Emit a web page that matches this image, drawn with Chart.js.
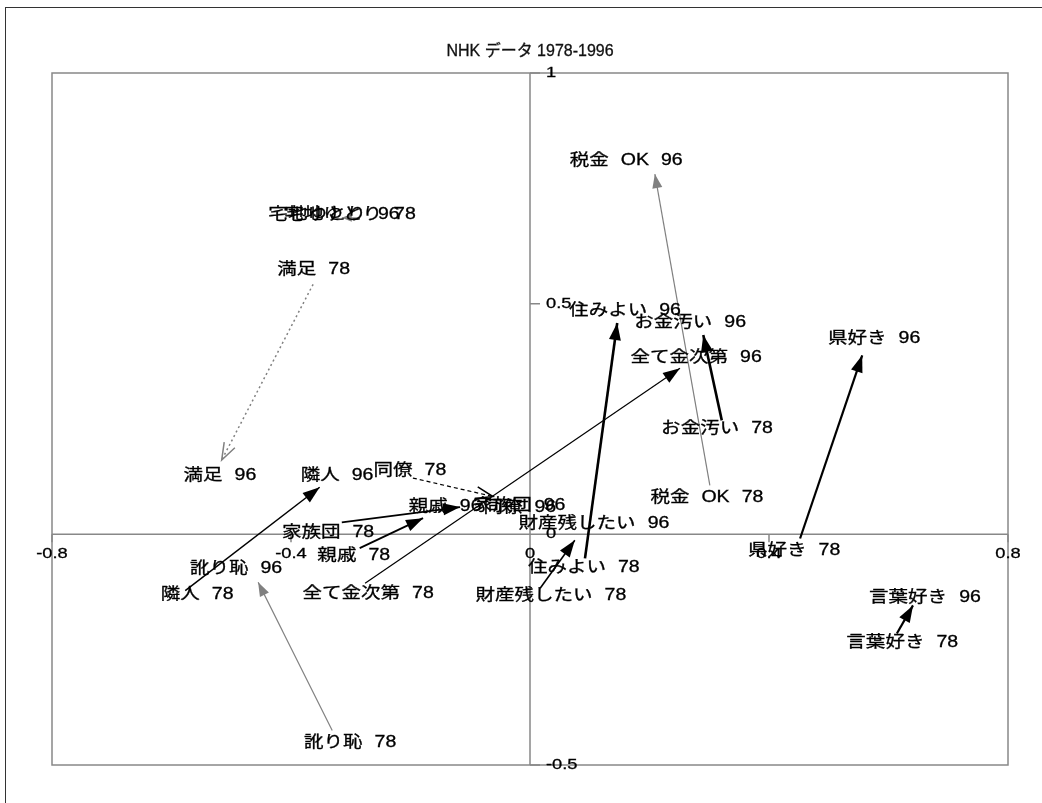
<!DOCTYPE html>
<html lang="ja">
<head>
<meta charset="utf-8">
<title>NHK データ 1978-1996</title>
<script src="https://cdn.jsdelivr.net/npm/chart.js@4.4.1/dist/chart.umd.min.js"></script>
<style>
  html, body { margin: 0; padding: 0; background: #fff; overflow: hidden; }
  #wrap { width: 1042px; height: 803px; }
</style>
</head>
<body>
<div id="wrap"><canvas id="nhkChart" width="1042" height="803"></canvas></div>
<script>
// --- data -------------------------------------------------------------
const items = ["満足", "宅地ゆとり", "隣人", "同僚", "親戚", "家族団", "訛り恥",
  "全て金次第", "財産残したい", "住みよい", "お金汚い", "税金 OK", "県好き", "言葉好き"];

// label positions, 1978
const x78 = [-0.362, -0.301, -0.557, -0.201, -0.295, -0.338, -0.301, -0.271, 0.035, 0.090, 0.313, 0.296, 0.442, 0.623];
const y78 = [0.573, 0.692, -0.130, 0.139, -0.046, 0.004, -0.451, -0.128, -0.132, -0.072, 0.230, 0.080, -0.035, -0.234];
// label positions, 1996
const x96 = [-0.519, -0.328, -0.323, -0.017, -0.142, -0.018, -0.492, 0.278, 0.107, 0.159, 0.268, 0.161, 0.576, 0.661];
const y96 = [0.128, 0.692, 0.128, 0.059, 0.061, 0.063, -0.074, 0.384, 0.024, 0.486, 0.458, 0.811, 0.425, -0.137];

// arrows 78 -> 96 (tail / tip)
const tailX = [-0.363, -0.285, -0.577, -0.196, -0.285, -0.315, -0.331, -0.276, 0.017, 0.092, 0.321, 0.301, 0.452, 0.614];
const tailY = [0.542, 0.686, -0.122, 0.122, -0.030, 0.026, -0.425, -0.106, -0.117, -0.052, 0.247, 0.106, -0.009, -0.215];
const tipX = [-0.516, -0.315, -0.352, -0.062, -0.179, -0.117, -0.455, 0.251, 0.075, 0.146, 0.290, 0.209, 0.556, 0.641];
const tipY = [0.161, 0.686, 0.102, 0.082, 0.035, 0.059, -0.104, 0.360, -0.013, 0.458, 0.432, 0.781, 0.388, -0.154];

const xTicks = [-0.8, -0.4, 0, 0.4, 0.8];
const yTicks = [-0.5, 0, 0.5, 1];
const titleText = "NHK データ 1978-1996";

// --- styles -----------------------------------------------------------
const GRAY = "#808080";
const arrowStyles = {
  "満足":       { color: GRAY, width: 1.5, dash: [2, 3], head: "open" },
  "宅地ゆとり": { color: GRAY, width: 1, head: "fill", len: 10, half: 4 },
  "隣人":       { color: "#000", width: 1.5, head: "fill" },
  "同僚":       { color: "#000", width: 1.2, dash: [4, 3], head: "open" },
  "親戚":       { color: "#000", width: 1.8, head: "fill" },
  "家族団":     { color: "#000", width: 1.8, head: "fill" },
  "訛り恥":     { color: GRAY, width: 1.2, head: "fill", len: 14, half: 5 },
  "全て金次第": { color: "#000", width: 1.2, head: "fill" },
  "財産残したい": { color: "#000", width: 1.6, head: "fill" },
  "住みよい":   { color: "#000", width: 2.6, head: "fill" },
  "お金汚い":   { color: "#000", width: 2.6, head: "fill" },
  "税金 OK":    { color: GRAY, width: 1.2, head: "fill", len: 14, half: 5 },
  "県好き":     { color: "#000", width: 2.2, head: "fill" },
  "言葉好き":   { color: "#000", width: 2.2, head: "fill" }
};

const LABEL_FONT = '16px "Liberation Sans", "Noto Sans CJK JP", sans-serif';
const TICK_FONT = '15px "Liberation Sans", "Noto Sans CJK JP", sans-serif';
const TITLE_FONT = '16px "Liberation Sans", "Noto Sans CJK JP", sans-serif';
const STRETCH = 1.22;   // labels in the picture are drawn wide
const GAP = 12;

// draw text horizontally stretched, words separated by a fixed gap
function wideText(ctx, text, cx, cy, font, align) {
  ctx.font = font;
  ctx.textBaseline = "middle";
  ctx.textAlign = "left";
  ctx.lineWidth = 0.3;
  ctx.strokeStyle = ctx.fillStyle;
  const parts = text.split(" ");
  const widths = parts.map(p => ctx.measureText(p).width * STRETCH);
  const total = widths.reduce((a, b) => a + b, 0) + GAP * (parts.length - 1);
  let x = align === "left" ? cx : cx - total / 2;
  parts.forEach((p, i) => {
    ctx.save();
    ctx.translate(x, cy);
    ctx.scale(STRETCH, 1);
    ctx.fillText(p, 0, 0);
    ctx.strokeText(p, 0, 0);
    ctx.restore();
    x += widths[i] + GAP;
  });
}

function arrowHead(ctx, p0, p1, st) {
  const ang = Math.atan2(p1.y - p0.y, p1.x - p0.x);
  const len = st.len || 17;
  const half = st.half || 6;
  const bx = p1.x - len * Math.cos(ang);
  const by = p1.y - len * Math.sin(ang);
  const nx = -Math.sin(ang) * half;
  const ny = Math.cos(ang) * half;
  ctx.save();
  ctx.setLineDash([]);
  if (st.head === "open") {
    ctx.strokeStyle = st.color;
    ctx.lineWidth = 1.5;
    ctx.beginPath();
    ctx.moveTo(bx + nx, by + ny);
    ctx.lineTo(p1.x, p1.y);
    ctx.lineTo(bx - nx, by - ny);
    ctx.stroke();
  } else {
    ctx.fillStyle = st.color;
    ctx.beginPath();
    ctx.moveTo(p1.x, p1.y);
    ctx.lineTo(bx + nx, by + ny);
    ctx.lineTo(bx - nx, by - ny);
    ctx.closePath();
    ctx.fill();
  }
  ctx.restore();
}

const decor = {
  id: "decor",
  beforeDraw(chart) {
    const { ctx, chartArea: a, scales: { x, y } } = chart;
    const x0 = x.getPixelForValue(0);
    const y0 = y.getPixelForValue(0);
    ctx.save();
    ctx.fillStyle = "#fff";
    ctx.fillRect(0, 0, chart.width, chart.height);

    // outer frame (runs off the right and bottom)
    ctx.strokeStyle = "#333";
    ctx.lineWidth = 1;
    ctx.strokeRect(5.5, 7.5, chart.width + 20, chart.height + 20);

    // plot box + axes through the origin
    ctx.strokeStyle = "#888";
    ctx.lineWidth = 1.5;
    ctx.strokeRect(a.left, a.top, a.right - a.left, a.bottom - a.top);
    ctx.beginPath();
    ctx.moveTo(a.left, y0); ctx.lineTo(a.right, y0);
    ctx.moveTo(x0, a.top); ctx.lineTo(x0, a.bottom);
    xTicks.forEach(v => {
      const px = x.getPixelForValue(v);
      ctx.moveTo(px, y0); ctx.lineTo(px, y0 + 8);
    });
    yTicks.forEach(v => {
      const py = y.getPixelForValue(v);
      ctx.moveTo(x0, py); ctx.lineTo(x0 + 10, py);
    });
    ctx.stroke();

    // tick labels
    ctx.fillStyle = "#000";
    xTicks.forEach(v => wideText(ctx, String(v), x.getPixelForValue(v), y0 + 20, TICK_FONT));
    yTicks.forEach(v => wideText(ctx, String(v), x0 + 16, y.getPixelForValue(v), TICK_FONT, "left"));

    // title
    ctx.font = TITLE_FONT;
    ctx.fillStyle = "#111";
    ctx.strokeStyle = "#111";
    ctx.lineWidth = 0.3;
    ctx.textAlign = "center";
    ctx.textBaseline = "middle";
    ctx.fillText(titleText, (a.left + a.right) / 2, a.top - 21);
    ctx.strokeText(titleText, (a.left + a.right) / 2, a.top - 21);
    ctx.restore();
  },
  afterDatasetsDraw(chart) {
    const { ctx } = chart;
    ctx.save();
    // arrow heads
    items.forEach((name, i) => {
      const pts = chart.getDatasetMeta(i).data;
      arrowHead(ctx, pts[0], pts[1], arrowStyles[name]);
    });
    // labels
    ctx.fillStyle = "#000";
    ["78", "96"].forEach((yr, k) => {
      const pts = chart.getDatasetMeta(items.length + k).data;
      pts.forEach((p, i) => wideText(ctx, items[i] + " " + yr, p.x, p.y, LABEL_FONT));
    });
    ctx.restore();
  }
};

document.addEventListener("DOMContentLoaded", () => {
  const canvas = document.getElementById("nhkChart");
  const ctx = canvas.getContext("2d");

  // one small line dataset per arrow
  const arrowSets = items.map((name, i) => {
    const st = arrowStyles[name];
    return {
      label: name,
      data: [{ x: tailX[i], y: tailY[i] }, { x: tipX[i], y: tipY[i] }],
      showLine: true,
      borderColor: st.color,
      borderWidth: st.width,
      borderDash: st.dash || [],
      pointRadius: 0,
      fill: false
    };
  });

  const labelSets = [
    { label: "78", data: x78.map((v, i) => ({ x: v, y: y78[i] })), pointRadius: 0 },
    { label: "96", data: x96.map((v, i) => ({ x: v, y: y96[i] })), pointRadius: 0 }
  ];

  new Chart(ctx, {
    type: "scatter",
    data: { datasets: [...arrowSets, ...labelSets] },
    options: {
      responsive: false,
      devicePixelRatio: 1,
      animation: false,
      layout: { padding: { left: 52, top: 73, right: 34, bottom: 38 } },
      scales: {
        x: { type: "linear", min: -0.8, max: 0.8, display: false },
        y: { type: "linear", min: -0.5, max: 1, display: false }
      },
      plugins: {
        legend: { display: false },
        tooltip: { enabled: false }
      }
    },
    plugins: [decor]
  });
});
</script>
</body>
</html>
